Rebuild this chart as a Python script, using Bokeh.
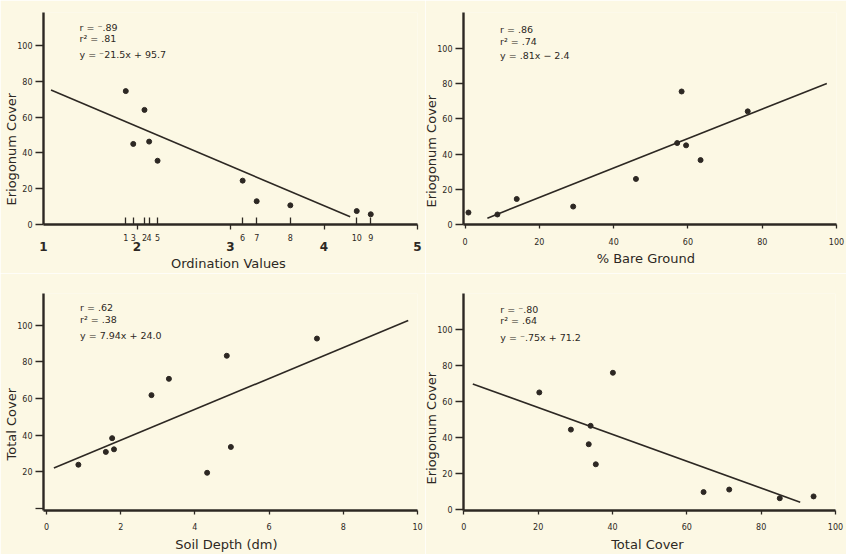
from bokeh.plotting import figure
from bokeh.models import LinearAxis, FixedTicker, Range1d, Label, Title, CustomJSTickFormatter
from bokeh.layouts import column, row
from bokeh.embed import file_html
from bokeh.resources import INLINE

BG = "#fcf8e4"
INK = "#2d2823"
FONT = "DejaVu Sans"

# ---------------- data ----------------
# Panel 1: Eriogonum cover vs ordination values
ord_x = [1.88, 1.96, 2.08, 2.13, 2.22, 3.13, 3.28, 3.64, 4.35, 4.50]
ord_y = [74.5, 45.0, 64.0, 46.3, 35.6, 24.5, 13.0, 10.7, 7.5, 5.7]
ord_site = ["1", "3", "2", "4", "5", "6", "7", "8", "10", "9"]
ord_major = [1, 2, 3, 4, 5]
ord_fit_x = [1.08, 4.28]
ord_fit_y = [75.1, 4.3]
ord_stats = ["r = \u207b.89", "r\u00b2 = .81", "y = \u207b21.5x + 95.7"]

# Panel 2: Eriogonum cover vs % bare ground
bare_x = [0.9, 8.7, 13.9, 29.1, 46.0, 57.1, 58.3, 59.5, 63.4, 76.1]
bare_y = [6.8, 5.7, 14.5, 10.2, 25.9, 46.3, 75.6, 45.0, 36.6, 64.3]
bare_fit_x = [6.0, 97.4]
bare_fit_y = [3.6, 80.2]
bare_stats = ["r = .86", "r\u00b2 = .74", "y = .81x \u2212 2.4"]

# Panel 3: total cover vs soil depth
soil_x = [0.86, 1.60, 1.77, 1.82, 2.83, 3.30, 4.33, 4.86, 4.97, 7.29]
soil_y = [23.9, 30.9, 38.4, 32.3, 61.9, 70.8, 19.5, 83.4, 33.6, 92.8]
soil_fit_x = [0.2, 9.75]
soil_fit_y = [22.1, 102.6]
soil_stats = ["r = .62", "r\u00b2 = .38", "y = 7.94x + 24.0"]

# Panel 4: Eriogonum cover vs total cover
tot_x = [20.3, 28.8, 33.6, 34.1, 35.5, 40.1, 64.5, 71.4, 85.0, 94.1]
tot_y = [64.9, 44.3, 36.2, 46.4, 25.1, 75.8, 9.7, 11.1, 6.3, 7.3]
tot_fit_x = [2.4, 90.5]
tot_fit_y = [69.6, 4.1]
tot_stats = ["r = \u207b.80", "r\u00b2 = .64", "y = \u207b.75x + 71.2"]

y_ticks = [0, 20, 40, 60, 80, 100]
pct_ticks = [0, 20, 40, 60, 80, 100]
soil_ticks = [0, 2, 4, 6, 8, 10]


def base(w, h, bl, br, bt, bb, xr, yr):
    p = figure(width=w, height=h, x_range=Range1d(*xr), y_range=Range1d(*yr),
               output_backend="svg", toolbar_location=None,
               x_axis_location=None, y_axis_location=None,
               min_border_left=bl, min_border_right=br,
               min_border_top=bt, min_border_bottom=bb,
               background_fill_color=BG, border_fill_color=BG,
               outline_line_color=None)
    p.grid.visible = False
    return p


def style_axis(ax):
    ax.axis_line_color = INK
    ax.axis_line_width = 2.4
    ax.major_tick_line_color = INK
    ax.major_tick_line_width = 1.3
    ax.minor_tick_line_color = INK
    ax.minor_tick_line_width = 1.3
    ax.major_label_text_font = FONT
    ax.major_label_text_font_size = "8px"
    ax.major_label_text_color = INK
    ax.axis_label_text_font = FONT
    ax.axis_label_text_font_size = "13px"
    ax.axis_label_text_font_style = "normal"
    ax.axis_label_text_color = INK


def add_y(p, label, offset, zero_label=True):
    if zero_label:
        t = FixedTicker(ticks=y_ticks)
    else:
        t = FixedTicker(ticks=y_ticks[1:], minor_ticks=y_ticks[:1])
    ax = LinearAxis(ticker=t)
    style_axis(ax)
    ax.major_tick_in = 0
    ax.major_tick_out = 8
    ax.minor_tick_in = 0
    ax.minor_tick_out = 8
    ax.major_label_standoff = 3
    p.add_layout(ax, "left")
    # vertical axis title, shifted along the axis like the original
    p.add_layout(Title(text=label, align="left", offset=offset, standoff=-8,
                       text_font=FONT, text_font_size="13px",
                       text_font_style="normal", text_color=INK), "left")


def add_x(p, ticks, label, standoff, label_standoff):
    ax = LinearAxis(ticker=FixedTicker(ticks=ticks), axis_label=label)
    style_axis(ax)
    ax.major_tick_in = 0
    ax.major_tick_out = 4
    ax.major_label_standoff = standoff
    ax.axis_label_standoff = label_standoff
    p.add_layout(ax, "below")


def draw(p, xs, ys, fx, fy, stats, sx, sy):
    p.line(fx, fy, line_color=INK, line_width=1.6)
    p.scatter(xs, ys, size=5, fill_color=INK, line_color=INK)
    for txt, yy in zip(stats, sy):
        p.add_layout(Label(x=sx, y=yy, text=txt, text_font=FONT,
                           text_font_size="9.5px", text_color=INK,
                           text_baseline="alphabetic"))


# ---------------- panel 1 ----------------
p1 = base(425, 273, 43, 8, 12, 41, (1, 5), (0, 118.4))
add_y(p1, "Eriogonum  Cover", 19)
site_ax = LinearAxis(
    ticker=FixedTicker(ticks=ord_x, minor_ticks=ord_major[1:]),
    formatter=CustomJSTickFormatter(args=dict(xs=ord_x, labels=ord_site),
                                    code="const i = xs.indexOf(tick); return i >= 0 ? labels[i] : '';"))
style_axis(site_ax)
site_ax.major_tick_in = 7
site_ax.major_tick_out = 0
site_ax.minor_tick_in = 0
site_ax.minor_tick_out = 5
site_ax.major_label_standoff = 4
site_ax.major_label_text_font_size = "8px"
p1.add_layout(site_ax, "below")
major_ax = LinearAxis(ticker=FixedTicker(ticks=ord_major), axis_label="Ordination  Values")
style_axis(major_ax)
major_ax.axis_line_color = None
major_ax.major_tick_line_color = None
major_ax.major_tick_in = 0
major_ax.major_tick_out = 0
major_ax.major_label_standoff = -2
major_ax.major_label_text_font_size = "12px"
major_ax.major_label_text_font_style = "bold"
major_ax.axis_label_standoff = 2
p1.add_layout(major_ax, "below")
draw(p1, ord_x, ord_y, ord_fit_x, ord_fit_y, ord_stats, 1.385, [110.1, 103.9, 94.9])

# ---------------- panel 2 ----------------
p2 = base(421, 273, 38, 10, 9, 40, (-0.43, 100), (0, 120.5))
add_y(p2, "Eriogonum  Cover", 17)
add_x(p2, pct_ticks, "%  Bare  Ground", 9, 3)
draw(p2, bare_x, bare_y, bare_fit_x, bare_fit_y, bare_stats, 9.4, [111.1, 104.3, 95.8])

# ---------------- panel 3 ----------------
p3 = base(425, 281, 43, 8, 20, 40, (-0.08, 10), (-1.1, 117.4))
add_y(p3, "Total  Cover", 50, zero_label=False)
add_x(p3, soil_ticks, "Soil  Depth  (dm)", 8, 4)
draw(p3, soil_x, soil_y, soil_fit_x, soil_fit_y, soil_stats, 0.905, [109.8, 103.3, 94.7])

# ---------------- panel 4 ----------------
p4 = base(421, 281, 37, 11, 17, 40, (-0.1, 100), (-0.5, 119.7))
add_y(p4, "Eriogonum  Cover", 26)
add_x(p4, pct_ticks, "Total  Cover", 8, 4)
draw(p4, tot_x, tot_y, tot_fit_x, tot_fit_y, tot_stats, 9.8, [110.8, 104.5, 95.5])

layout = column(row(p1, p2), row(p3, p4))
open("out.html", "w").write(file_html(layout, INLINE))
